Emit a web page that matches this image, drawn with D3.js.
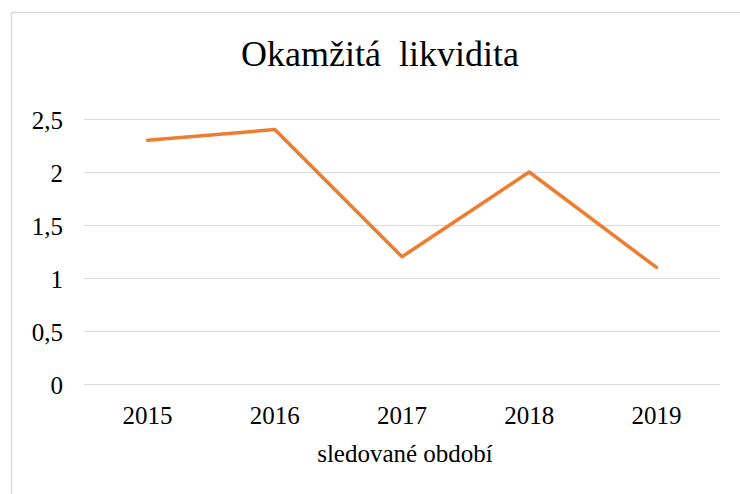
<!DOCTYPE html>
<html>
<head>
<meta charset="utf-8">
<script src="https://cdn.jsdelivr.net/npm/d3@7"></script>
<style>
  body { margin: 0; background: #fff; }
</style>
</head>
<body>
<div id="chart"></div>
<script>
var years = ["2015", "2016", "2017", "2018", "2019"];
var values = [2.3, 2.4, 1.2, 2.0, 1.1];
var yTicks = [0, 0.5, 1, 1.5, 2, 2.5];

var width = 740, height = 494;
var margin = { top: 119, right: 20, bottom: 110, left: 84 };
var serif = "'Liberation Serif'";

var svg = d3.select('#chart').append('svg')
    .attr('width', width)
    .attr('height', height);

// chart frame
svg.append('rect')
    .attr('x', 11.5).attr('y', 12.5)
    .attr('width', 740).attr('height', 500)
    .attr('fill', 'none')
    .attr('stroke', '#d9d9d9')
    .attr('stroke-width', 1.5);

var x = d3.scaleBand()
    .domain(years)
    .range([margin.left, width - margin.right]);

var y = d3.scaleLinear()
    .domain([0, 2.5])
    .range([height - margin.bottom, margin.top]);

var fmt = function (d) { return String(d).replace('.', ','); };

// gridlines
svg.append('g')
    .selectAll('line')
    .data(yTicks)
    .enter().append('line')
    .attr('x1', margin.left)
    .attr('x2', width - margin.right)
    .attr('y1', d => Math.round(y(d)) + 0.5)
    .attr('y2', d => Math.round(y(d)) + 0.5)
    .attr('stroke', '#d9d9d9')
    .attr('stroke-width', 1);

// y labels
svg.append('g')
    .selectAll('text')
    .data(yTicks)
    .enter().append('text')
    .attr('x', 63)
    .attr('y', d => y(d) + 10)
    .attr('text-anchor', 'end')
    .style('font-family', serif)
    .style('font-size', '25px')
    .text(fmt);

// x labels
svg.append('g')
    .selectAll('text')
    .data(years)
    .enter().append('text')
    .attr('x', d => x(d) + x.bandwidth() / 2)
    .attr('y', 424)
    .attr('text-anchor', 'middle')
    .style('font-family', serif)
    .style('font-size', '25px')
    .text(d => d);

// axis title
svg.append('text')
    .attr('x', 405)
    .attr('y', 462)
    .attr('text-anchor', 'middle')
    .style('font-family', serif)
    .style('font-size', '25px')
    .text('sledované období');

// title
svg.append('text')
    .attr('x', 380)
    .attr('y', 66)
    .attr('text-anchor', 'middle')
    .style('font-family', serif)
    .style('font-size', '36px')
    .style('white-space', 'pre')
    .text('Okamžitá  likvidita');

// series line
var line = d3.line()
    .x((d, i) => x(years[i]) + x.bandwidth() / 2)
    .y(d => y(d));

svg.append('path')
    .datum(values)
    .attr('d', line)
    .attr('fill', 'none')
    .attr('stroke', '#ED7D31')
    .attr('stroke-width', 3.5)
    .attr('stroke-linecap', 'round')
    .attr('stroke-linejoin', 'round');
</script>
</body>
</html>
